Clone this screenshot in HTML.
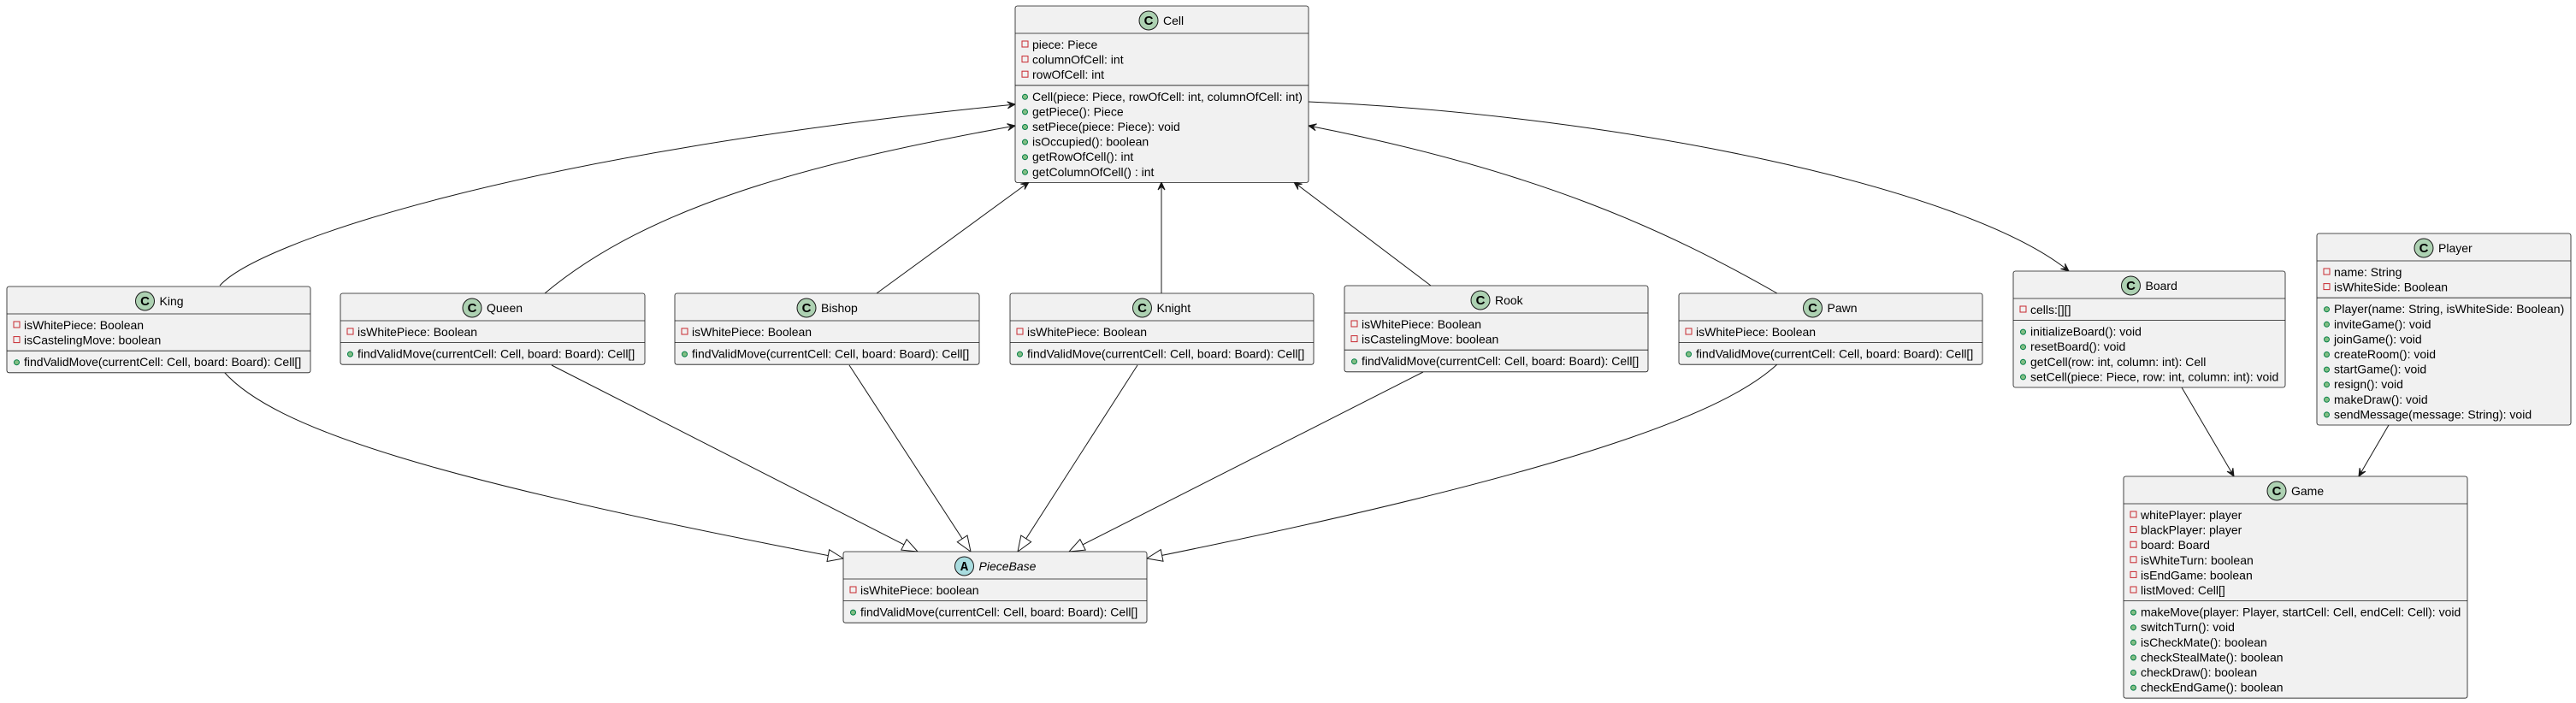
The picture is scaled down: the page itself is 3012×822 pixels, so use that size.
<!DOCTYPE html>
<html><head><meta charset="utf-8"><style>
html,body{margin:0;padding:0;background:#fff}
svg{display:block}
text{font-family:"Liberation Sans",Arial,sans-serif;font-size:14px;fill:#000}
.b{fill:#F1F1F1;stroke:#181818;stroke-width:0.8}
.s{stroke:#181818;stroke-width:0.8}
.e{fill:none;stroke:#181818;stroke-width:1}
.a{fill:none;stroke:#C82930;stroke-width:1}
.m{fill:#84BE84;stroke:#038048;stroke-width:1}
.ci{fill:#ADD1B2;stroke:#181818;stroke-width:1}
.ca{fill:#A9DCDF;stroke:#181818;stroke-width:1}
.ic{font-weight:bold;font-size:15px;text-anchor:middle}
</style></head><body>
<svg width="3012" height="822" viewBox="0 0 3012 822" xmlns="http://www.w3.org/2000/svg">
<defs>
<marker id="ar" markerUnits="userSpaceOnUse" markerWidth="20" markerHeight="20" refX="0" refY="0" orient="auto" overflow="visible">
<path d="M0,0 L-9,-4 L-5,0 L-9,4 Z" fill="#181818" stroke="#181818" stroke-width="1"/>
</marker>
<marker id="tr" markerUnits="userSpaceOnUse" markerWidth="30" markerHeight="30" refX="0" refY="0" orient="auto" overflow="visible">
<path d="M0,0 L-18,-7 L-18,7 Z" fill="#fff" stroke="#181818" stroke-width="1"/>
</marker>
</defs>

<!-- edges -->
<path class="e" d="M257,334 C300,285 600,180 1187,122" marker-end="url(#ar)"/>
<path class="e" d="M637,343 C760,240 950,190 1187,147" marker-end="url(#ar)"/>
<path class="e" d="M1025,343 L1203,213" marker-end="url(#ar)"/>
<path class="e" d="M1358,343 L1358,213" marker-end="url(#ar)"/>
<path class="e" d="M1673,334 L1513,213" marker-end="url(#ar)"/>
<path class="e" d="M2078,343 C1950,270 1800,200 1530,147" marker-end="url(#ar)"/>
<path class="e" d="M1530,119 C1900,135 2300,220 2419,317" marker-end="url(#ar)"/>
<path class="e" d="M262,435 C320,500 500,560 986,653" marker-end="url(#tr)"/>
<path class="e" d="M645,427 L1073,645" marker-end="url(#tr)"/>
<path class="e" d="M993,427 L1135,645" marker-end="url(#tr)"/>
<path class="e" d="M1330,427 L1190,645" marker-end="url(#tr)"/>
<path class="e" d="M1664,435 L1250,645" marker-end="url(#tr)"/>
<path class="e" d="M2078,426 C2030,470 1900,540 1341,653" marker-end="url(#tr)"/>
<path class="e" d="M2551,453 L2612,557" marker-end="url(#ar)"/>
<path class="e" d="M2793,497 L2758,557" marker-end="url(#ar)"/>

<!-- King -->
<rect class="b" x="8" y="335" width="355" height="100.8" rx="2.5"/>
<line class="s" x1="8" y1="367" x2="363" y2="367"/><line class="s" x1="8" y1="410.2" x2="363" y2="410.2"/>
<circle class="ci" cx="169.5" cy="352" r="11"/><text class="ic" x="169.5" y="357">C</text>
<text x="186.5" y="357">King</text>
<rect class="a" x="16" y="376" width="7" height="7"/><text x="28" y="385">isWhitePiece: Boolean</text>
<rect class="a" x="16" y="393.6" width="7" height="7"/><text x="28" y="402.6">isCastelingMove: boolean</text>
<circle class="m" cx="19.5" cy="423.7" r="3"/><text x="28" y="428.2">findValidMove(currentCell: Cell, board: Board): Cell[]</text>

<!-- Queen -->
<rect class="b" x="398" y="343" width="356" height="83.2" rx="2.5"/>
<line class="s" x1="398" y1="375" x2="754" y2="375"/><line class="s" x1="398" y1="400.6" x2="754" y2="400.6"/>
<circle class="ci" cx="552" cy="360" r="11"/><text class="ic" x="552" y="365">C</text>
<text x="569" y="365">Queen</text>
<rect class="a" x="406" y="384" width="7" height="7"/><text x="418" y="393">isWhitePiece: Boolean</text>
<circle class="m" cx="409.5" cy="414.1" r="3"/><text x="418" y="418.6">findValidMove(currentCell: Cell, board: Board): Cell[]</text>

<!-- Bishop -->
<rect class="b" x="789" y="343" width="356" height="83.2" rx="2.5"/>
<line class="s" x1="789" y1="375" x2="1145" y2="375"/><line class="s" x1="789" y1="400.6" x2="1145" y2="400.6"/>
<circle class="ci" cx="943" cy="360" r="11"/><text class="ic" x="943" y="365">C</text>
<text x="960" y="365">Bishop</text>
<rect class="a" x="797" y="384" width="7" height="7"/><text x="809" y="393">isWhitePiece: Boolean</text>
<circle class="m" cx="800.5" cy="414.1" r="3"/><text x="809" y="418.6">findValidMove(currentCell: Cell, board: Board): Cell[]</text>

<!-- Knight -->
<rect class="b" x="1181" y="343" width="355" height="83.2" rx="2.5"/>
<line class="s" x1="1181" y1="375" x2="1536" y2="375"/><line class="s" x1="1181" y1="400.6" x2="1536" y2="400.6"/>
<circle class="ci" cx="1335.5" cy="360" r="11"/><text class="ic" x="1335.5" y="365">C</text>
<text x="1352.5" y="365">Knight</text>
<rect class="a" x="1189" y="384" width="7" height="7"/><text x="1201" y="393">isWhitePiece: Boolean</text>
<circle class="m" cx="1192.5" cy="414.1" r="3"/><text x="1201" y="418.6">findValidMove(currentCell: Cell, board: Board): Cell[]</text>

<!-- Rook -->
<rect class="b" x="1572" y="334" width="355" height="100.8" rx="2.5"/>
<line class="s" x1="1572" y1="366" x2="1927" y2="366"/><line class="s" x1="1572" y1="409.2" x2="1927" y2="409.2"/>
<circle class="ci" cx="1731" cy="351" r="11"/><text class="ic" x="1731" y="356">C</text>
<text x="1748" y="356">Rook</text>
<rect class="a" x="1580" y="375" width="7" height="7"/><text x="1592" y="384">isWhitePiece: Boolean</text>
<rect class="a" x="1580" y="392.6" width="7" height="7"/><text x="1592" y="401.6">isCastelingMove: boolean</text>
<circle class="m" cx="1583.5" cy="422.7" r="3"/><text x="1592" y="427.2">findValidMove(currentCell: Cell, board: Board): Cell[]</text>

<!-- Pawn -->
<rect class="b" x="1963" y="343" width="355" height="83.2" rx="2.5"/>
<line class="s" x1="1963" y1="375" x2="2318" y2="375"/><line class="s" x1="1963" y1="400.6" x2="2318" y2="400.6"/>
<circle class="ci" cx="2119.5" cy="360" r="11"/><text class="ic" x="2119.5" y="365">C</text>
<text x="2136.5" y="365">Pawn</text>
<rect class="a" x="1971" y="384" width="7" height="7"/><text x="1983" y="393">isWhitePiece: Boolean</text>
<circle class="m" cx="1974.5" cy="414.1" r="3"/><text x="1983" y="418.6">findValidMove(currentCell: Cell, board: Board): Cell[]</text>

<!-- Cell -->
<rect class="b" x="1187" y="7" width="343" height="206.4" rx="2.5"/>
<line class="s" x1="1187" y1="39" x2="1530" y2="39"/><line class="s" x1="1187" y1="99.8" x2="1530" y2="99.8"/>
<circle class="ci" cx="1343" cy="24" r="11"/><text class="ic" x="1343" y="29">C</text>
<text x="1360" y="29">Cell</text>
<rect class="a" x="1195" y="48" width="7" height="7"/><text x="1207" y="57">piece: Piece</text>
<rect class="a" x="1195" y="65.6" width="7" height="7"/><text x="1207" y="74.6">columnOfCell: int</text>
<rect class="a" x="1195" y="83.2" width="7" height="7"/><text x="1207" y="92.2">rowOfCell: int</text>
<circle class="m" cx="1198.5" cy="113.3" r="3"/><text x="1207" y="117.8">Cell(piece: Piece, rowOfCell: int, columnOfCell: int)</text>
<circle class="m" cx="1198.5" cy="130.9" r="3"/><text x="1207" y="135.4">getPiece(): Piece</text>
<circle class="m" cx="1198.5" cy="148.5" r="3"/><text x="1207" y="153">setPiece(piece: Piece): void</text>
<circle class="m" cx="1198.5" cy="166.1" r="3"/><text x="1207" y="170.6">isOccupied(): boolean</text>
<circle class="m" cx="1198.5" cy="183.7" r="3"/><text x="1207" y="188.2">getRowOfCell(): int</text>
<circle class="m" cx="1198.5" cy="201.3" r="3"/><text x="1207" y="205.8">getColumnOfCell() : int</text>

<!-- PieceBase -->
<rect class="b" x="986" y="645" width="355" height="83.2" rx="2.5"/>
<line class="s" x1="986" y1="677" x2="1341" y2="677"/><line class="s" x1="986" y1="702.6" x2="1341" y2="702.6"/>
<circle class="ca" cx="1127.5" cy="662" r="11"/><text class="ic" x="1127.5" y="667" style="font-family:'Liberation Mono',monospace">A</text>
<text x="1144.5" y="667" style="font-style:italic">PieceBase</text>
<rect class="a" x="994" y="686" width="7" height="7"/><text x="1006" y="695">isWhitePiece: boolean</text>
<circle class="m" cx="997.5" cy="716.1" r="3"/><text x="1006" y="720.6">findValidMove(currentCell: Cell, board: Board): Cell[]</text>

<!-- Board -->
<rect class="b" x="2354" y="317" width="318" height="136" rx="2.5"/>
<line class="s" x1="2354" y1="349" x2="2672" y2="349"/><line class="s" x1="2354" y1="374.6" x2="2672" y2="374.6"/>
<circle class="ci" cx="2491.5" cy="334" r="11"/><text class="ic" x="2491.5" y="339">C</text>
<text x="2508.5" y="339">Board</text>
<rect class="a" x="2362" y="358" width="7" height="7"/><text x="2374" y="367">cells:[][]</text>
<circle class="m" cx="2365.5" cy="388.1" r="3"/><text x="2374" y="392.6">initializeBoard(): void</text>
<circle class="m" cx="2365.5" cy="405.7" r="3"/><text x="2374" y="410.2">resetBoard(): void</text>
<circle class="m" cx="2365.5" cy="423.3" r="3"/><text x="2374" y="427.8">getCell(row: int, column: int): Cell</text>
<circle class="m" cx="2365.5" cy="440.9" r="3"/><text x="2374" y="445.4">setCell(piece: Piece, row: int, column: int): void</text>

<!-- Player -->
<rect class="b" x="2709" y="273" width="297" height="224" rx="2.5"/>
<line class="s" x1="2709" y1="305" x2="3006" y2="305"/><line class="s" x1="2709" y1="348.2" x2="3006" y2="348.2"/>
<circle class="ci" cx="2834" cy="290" r="11"/><text class="ic" x="2834" y="295">C</text>
<text x="2851" y="295">Player</text>
<rect class="a" x="2717" y="314" width="7" height="7"/><text x="2729" y="323">name: String</text>
<rect class="a" x="2717" y="331.6" width="7" height="7"/><text x="2729" y="340.6">isWhiteSide: Boolean</text>
<circle class="m" cx="2720.5" cy="361.7" r="3"/><text x="2729" y="366.2">Player(name: String, isWhiteSide: Boolean)</text>
<circle class="m" cx="2720.5" cy="379.3" r="3"/><text x="2729" y="383.8">inviteGame(): void</text>
<circle class="m" cx="2720.5" cy="396.9" r="3"/><text x="2729" y="401.4">joinGame(): void</text>
<circle class="m" cx="2720.5" cy="414.5" r="3"/><text x="2729" y="419">createRoom(): void</text>
<circle class="m" cx="2720.5" cy="432.1" r="3"/><text x="2729" y="436.6">startGame(): void</text>
<circle class="m" cx="2720.5" cy="449.7" r="3"/><text x="2729" y="454.2">resign(): void</text>
<circle class="m" cx="2720.5" cy="467.3" r="3"/><text x="2729" y="471.8">makeDraw(): void</text>
<circle class="m" cx="2720.5" cy="484.9" r="3"/><text x="2729" y="489.4">sendMessage(message: String): void</text>

<!-- Game -->
<rect class="b" x="2483" y="557" width="402" height="259.2" rx="2.5"/>
<line class="s" x1="2483" y1="589" x2="2885" y2="589"/><line class="s" x1="2483" y1="702.6" x2="2885" y2="702.6"/>
<circle class="ci" cx="2662" cy="574" r="11"/><text class="ic" x="2662" y="579">C</text>
<text x="2679" y="579">Game</text>
<rect class="a" x="2491" y="598" width="7" height="7"/><text x="2503" y="607">whitePlayer: player</text>
<rect class="a" x="2491" y="615.6" width="7" height="7"/><text x="2503" y="624.6">blackPlayer: player</text>
<rect class="a" x="2491" y="633.2" width="7" height="7"/><text x="2503" y="642.2">board: Board</text>
<rect class="a" x="2491" y="650.8" width="7" height="7"/><text x="2503" y="659.8">isWhiteTurn: boolean</text>
<rect class="a" x="2491" y="668.4" width="7" height="7"/><text x="2503" y="677.4">isEndGame: boolean</text>
<rect class="a" x="2491" y="686" width="7" height="7"/><text x="2503" y="695">listMoved: Cell[]</text>
<circle class="m" cx="2494.5" cy="716.1" r="3"/><text x="2503" y="720.6">makeMove(player: Player, startCell: Cell, endCell: Cell): void</text>
<circle class="m" cx="2494.5" cy="733.7" r="3"/><text x="2503" y="738.2">switchTurn(): void</text>
<circle class="m" cx="2494.5" cy="751.3" r="3"/><text x="2503" y="755.8">isCheckMate(): boolean</text>
<circle class="m" cx="2494.5" cy="768.9" r="3"/><text x="2503" y="773.4">checkStealMate(): boolean</text>
<circle class="m" cx="2494.5" cy="786.5" r="3"/><text x="2503" y="791">checkDraw(): boolean</text>
<circle class="m" cx="2494.5" cy="804.1" r="3"/><text x="2503" y="808.6">checkEndGame(): boolean</text>
</svg>
</body></html>
